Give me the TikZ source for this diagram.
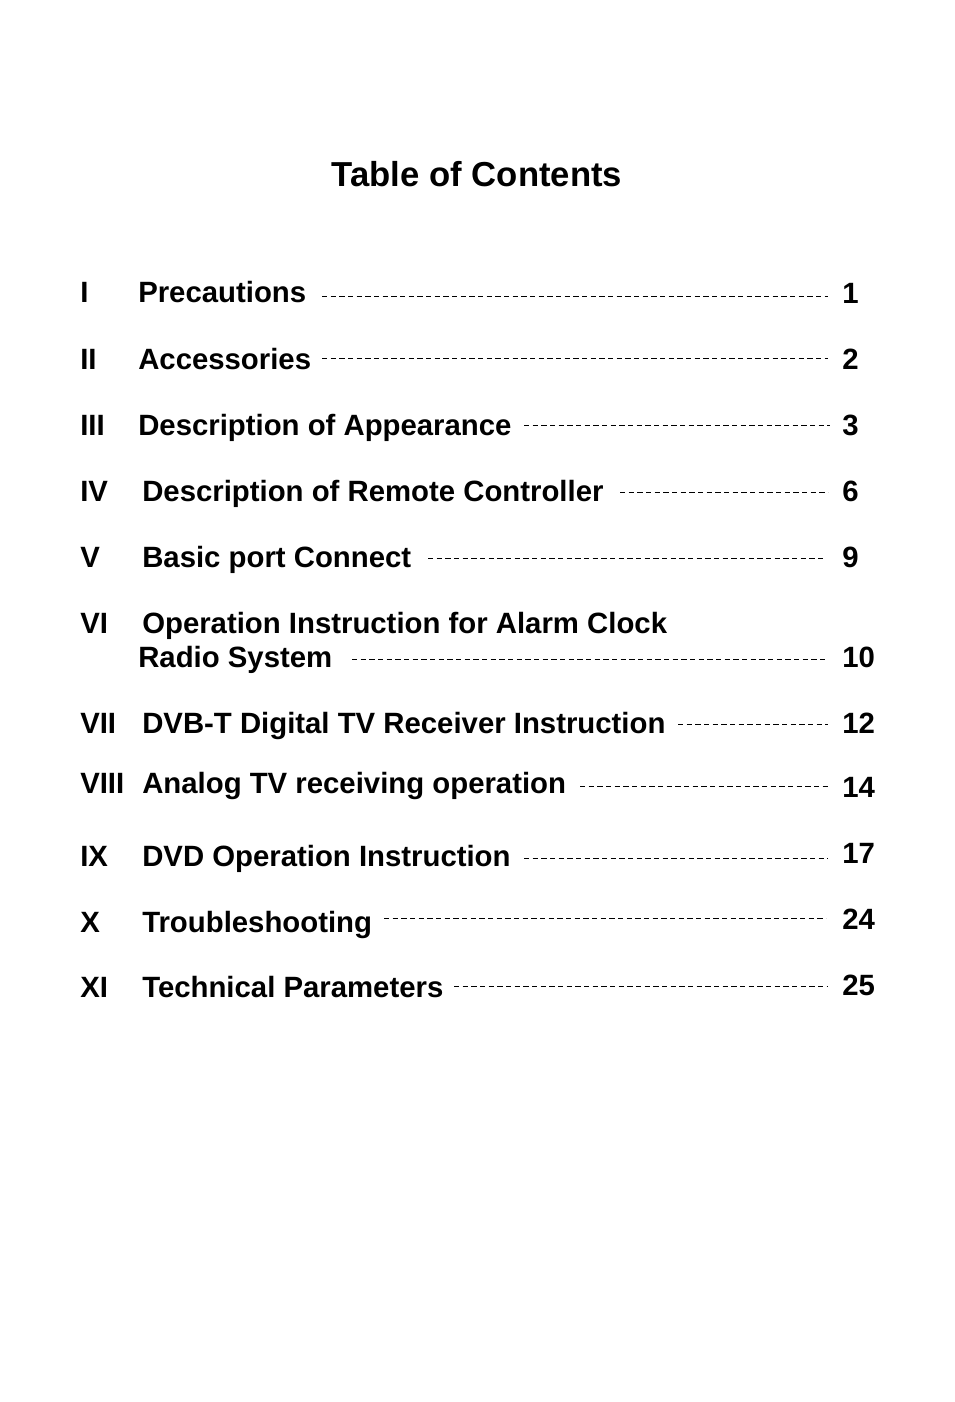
\documentclass[tikz,border=0pt]{standalone}
\usepackage{fontspec}
\setmainfont{Liberation Sans}
\usetikzlibrary{positioning}
\tikzset{
  entry/.style={anchor=base west, inner sep=0pt, font=\fontsize{22}{26}\selectfont\bfseries},
  leader/.style={line width=0.6pt, dash pattern=on 4pt off 2.5pt}
}
\begin{document}
\begin{tikzpicture}[x=0.75pt, y=-0.75pt]
  \useasboundingbox (0,0) rectangle (954,1402);
  \node[anchor=base, inner sep=0pt, font=\fontsize{26}{31}\selectfont\bfseries] (title) at (477,186) {Table of Contents};
  % chapters: number / title x / title / base y / leader start / leader end / leader y / page / page y
  \foreach \n/\tx/\t/\y/\da/\db/\dy/\p/\py [count=\i] in {
      I/138/Precautions/302/322/828/296/1/303,
      II/138/Accessories/369/322/828/358/2/369,
      III/138/Description of Appearance/435/524/830/425/3/435,
      IV/142/Description of Remote Controller/501/620/828/492/6/501,
      V/142/Basic port Connect/567/428/826/558/9/567,
      VII/142/DVB-T Digital TV Receiver Instruction/733/678/828/724/12/733,
      VIII/142/Analog TV receiving operation/793/580/828/786/14/797,
      IX/142/DVD Operation Instruction/866/524/828/858/17/863,
      X/142/Troubleshooting/932/384/826/918/24/929,
      XI/142/Technical Parameters/997/454/828/986/25/995} {
    \node[entry] (num\i) at (80,\y) {\n};
    \node[entry] (name\i) at (\tx,\y) {\t};
    \node[entry] (page\i) at (842,\py) {\p};
    \draw[leader] (\da,\dy) -- (\db,\dy);
  }
  % two-line chapter
  \node[entry] (numVI) at (80,633) {VI};
  \node[entry] (nameVI) at (142,633) {Operation Instruction for Alarm Clock};
  \node[entry] (nameVIb) at (138,667) {Radio System};
  \node[entry] (pageVI) at (842,667) {10};
  \draw[leader] (352,659) -- (826,659);
\end{tikzpicture}
\end{document}
